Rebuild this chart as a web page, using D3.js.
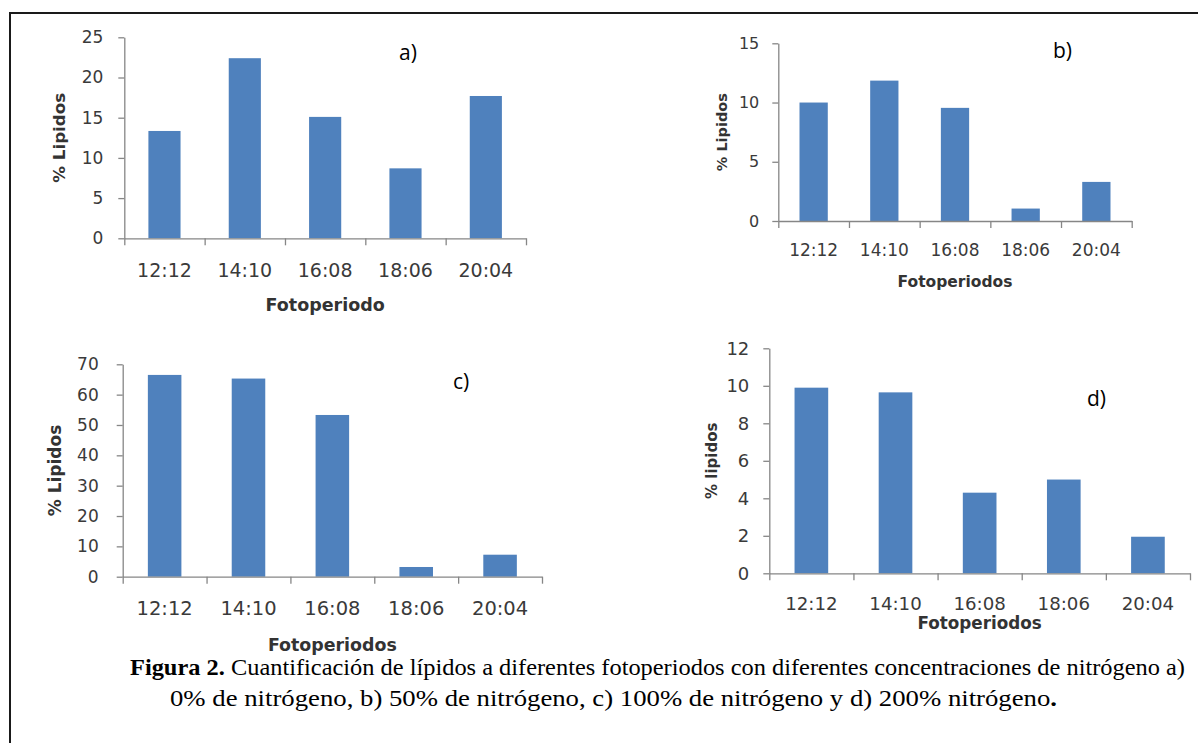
<!DOCTYPE html>
<html>
<head>
<meta charset="utf-8">
<script src="https://cdn.jsdelivr.net/npm/d3@7/dist/d3.min.js"></script>
<style>
  html, body { margin: 0; padding: 0; background: #fff; }
  svg { display: block; }
  .axis path, .axis line { stroke: #868686; stroke-width: 1.3; }
  .caption { font-family: "Liberation Serif", "Times New Roman", Times, serif; }
</style>
</head>
<body>
<svg id="fig" width="1198" height="743"></svg>
<script>
// photoperiod categories shared by all four panels
var categories = ["12:12", "14:10", "16:08", "18:06", "20:04"];

// % lipids
var lipidsA = [13.35, 22.4, 15.1, 8.7, 17.7];   // 0% nitrogen
var lipidsB = [10.0, 11.85, 9.55, 1.05, 3.3];   // 50% nitrogen
var lipidsC = [66.5, 65.3, 53.3, 3.2, 7.25];    // 100% nitrogen
var lipidsD = [9.9, 9.65, 4.3, 5.0, 1.95];      // 200% nitrogen

var yTicksA = [0, 5, 10, 15, 20, 25];
var yTicksB = [0, 5, 10, 15];
var yTicksC = [0, 10, 20, 30, 40, 50, 60, 70];
var yTicksD = [0, 2, 4, 6, 8, 10, 12];

var panelLabels = ["a)", "b)", "c)", "d)"];
var xTitles = ["Fotoperiodo", "Fotoperiodos", "Fotoperiodos", "Fotoperiodos"];
var yTitles = ["% Lipidos", "% Lipidos", "% Lipidos", "% lipidos"];

var captionBold = "Figura 2.";
var captionLine1 = " Cuantificación de lípidos a diferentes fotoperiodos con diferentes concentraciones de nitrógeno a)";
var captionLine2 = "0% de nitrógeno, b) 50% de nitrógeno, c) 100% de nitrógeno y d) 200% nitrógeno";


var svg = d3.select("#fig");

// outer frame, cut off on the right and bottom like the scan
svg.append("rect")
    .attr("x", 10).attr("y", 13)
    .attr("width", 1210).attr("height", 760)
    .attr("fill", "none")
    .attr("stroke", "#1a1a1a")
    .attr("stroke-width", 2);

var panels = [
    {values: lipidsA, ticks: yTicksA, left: 124.3, right: 526, top: 37.3, bottom: 238.3,
        xFont: 19, xDy: 32, yFont: 17, yGap: 21, xtFont: 17.5, xtY: 305, ytFont: 16.7, ytX: 60, lx: 399, ly: 60},
    {values: lipidsB, ticks: yTicksB, left: 778.3, right: 1131.7, top: 43.3, bottom: 221,
        xFont: 17, xDy: 29, yFont: 16, yGap: 19, xtFont: 15.5, xtY: 281.7, ytFont: 14.5, ytX: 722.5, lx: 1053, ly: 58},
    {values: lipidsC, ticks: yTicksC, left: 122.7, right: 542, top: 364.3, bottom: 576.7,
        xFont: 19.5, xDy: 31.6, yFont: 17, yGap: 24, xtFont: 17.4, xtY: 645, ytFont: 17, ytX: 56, lx: 453, ly: 389},
    {values: lipidsD, ticks: yTicksD, left: 769.3, right: 1190, top: 348.3, bottom: 573.3,
        xFont: 18.2, xDy: 30, yFont: 18, yGap: 20, xtFont: 16.8, xtY: 623.3, ytFont: 15, ytX: 712.5, lx: 1087, ly: 406}
];

panels.forEach(function (p, i) {

    var g = svg.append("g");

    var x = d3.scaleBand()
        .domain(categories)
        .range([p.left, p.right])
        .paddingInner(0.6)
        .paddingOuter(0.3);

    // category boundaries for the excel style tick marks
    var xEdge = d3.scaleLinear()
        .domain([0, categories.length])
        .range([p.left, p.right]);

    var y = d3.scaleLinear()
        .domain([0, d3.max(p.ticks)])
        .range([p.bottom, p.top]);

    // bars
    g.selectAll("rect.bar")
        .data(p.values)
        .enter().append("rect")
        .attr("class", "bar")
        .attr("x", function (d, j) { return x(categories[j]); })
        .attr("width", x.bandwidth())
        .attr("y", function (d) { return y(d); })
        .attr("height", function (d) { return y(0) - y(d); })
        .attr("fill", "#4F81BD");

    // y axis
    var yAxis = g.append("g")
        .attr("class", "axis")
        .attr("transform", "translate(" + p.left + ",0)")
        .call(d3.axisLeft(y).tickValues(p.ticks).tickSize(6).tickSizeOuter(0).tickPadding(p.yGap - 6));
    yAxis.selectAll("text")
        .attr("fill", "#3a3a3a")
        .style("font-family", "DejaVu Sans")
        .style("font-size", p.yFont + "px");

    // x axis line + boundary ticks
    g.append("g")
        .attr("class", "axis")
        .attr("transform", "translate(0," + p.bottom + ")")
        .call(d3.axisBottom(xEdge).ticks(categories.length).tickSize(7).tickSizeOuter(0).tickFormat(""));

    // category labels
    var xLab = g.append("g")
        .attr("transform", "translate(0," + p.bottom + ")")
        .call(d3.axisBottom(x).tickSize(0).tickPadding(0));
    xLab.select(".domain").remove();
    xLab.selectAll("text")
        .attr("y", p.xDy)
        .attr("dy", "0.36em")
        .attr("fill", "#3a3a3a")
        .style("font-family", "DejaVu Sans")
        .style("font-size", p.xFont + "px");

    // axis titles
    g.append("text")
        .attr("x", (p.left + p.right) / 2)
        .attr("y", p.xtY)
        .attr("dy", "0.36em")
        .attr("text-anchor", "middle")
        .attr("fill", "#333")
        .style("font-family", "DejaVu Sans")
        .style("font-weight", "bold")
        .style("font-size", p.xtFont + "px")
        .text(xTitles[i]);

    g.append("text")
        .attr("transform", "translate(" + p.ytX + "," + ((p.top + p.bottom) / 2) + ") rotate(-90)")
        .attr("dy", "0.32em")
        .attr("text-anchor", "middle")
        .attr("fill", "#333")
        .style("font-family", "DejaVu Sans")
        .style("font-weight", "bold")
        .style("font-size", p.ytFont + "px")
        .text(yTitles[i]);

    // panel letter
    g.append("text")
        .attr("x", p.lx)
        .attr("y", p.ly)
        .attr("fill", "#000")
        .style("font-family", "Open Sans")
        .style("font-size", "21px")
        .text(panelLabels[i]);
});

// caption
var cap1 = svg.append("text")
    .attr("class", "caption")
    .attr("x", 130).attr("y", 675)
    .attr("textLength", 1055)
    .attr("lengthAdjust", "spacingAndGlyphs")
    .style("font-size", "23.5px")
    .attr("fill", "#000");
cap1.append("tspan").style("font-weight", "bold").text(captionBold);
cap1.append("tspan").text(captionLine1);

var cap2 = svg.append("text")
    .attr("class", "caption")
    .attr("x", 170).attr("y", 706)
    .attr("textLength", 887)
    .attr("lengthAdjust", "spacingAndGlyphs")
    .style("font-size", "23.5px")
    .attr("fill", "#000");
cap2.append("tspan").text(captionLine2);
cap2.append("tspan").style("font-weight", "bold").text(".");
</script>
</body>
</html>
